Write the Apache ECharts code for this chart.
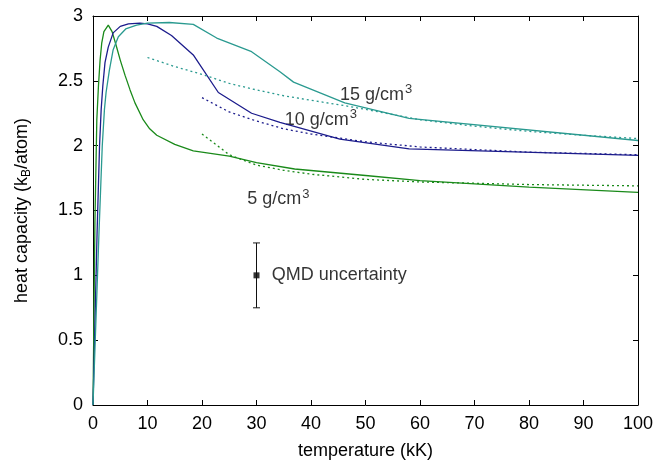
<!DOCTYPE html>
<html>
<head>
<meta charset="utf-8">
<script src="https://cdn.jsdelivr.net/npm/echarts@6/dist/echarts.min.js"></script>
<style>
  html, body { margin: 0; padding: 0; background: #fff; }
  #chart { width: 657px; height: 465px; }
</style>
</head>
<body>
<div id="chart"></div>
<script>
// QMD heat capacity (solid) and model fits (dotted), temperature in kK
const rho5 = [[0,0],[0.35,1.4],[0.7,2.2],[1.0,2.46],[1.3,2.66],[1.6,2.79],[2.0,2.88],[2.8,2.93],[3.5,2.88],[4.2,2.78],[5,2.66],[5.9,2.54],[6.8,2.43],[7.7,2.33],[9.2,2.2],[10.4,2.13],[11.7,2.08],[15,2.01],[18.4,1.96],[25,1.92],[30,1.87],[37,1.82],[50,1.77],[60,1.73],[80,1.68],[100,1.64]];
const rho10 = [[0,0],[0.75,1.33],[1.2,2.0],[1.5,2.28],[1.8,2.46],[2.2,2.64],[2.8,2.76],[3.7,2.87],[5,2.92],[6.5,2.94],[8.6,2.945],[10,2.94],[11.7,2.92],[14.4,2.85],[18.4,2.7],[23,2.41],[29.1,2.25],[34.3,2.18],[45.3,2.05],[58,1.975],[100,1.925]];
const rho15 = [[0,0],[1.1,1.33],[1.7,2.0],[2.1,2.28],[2.4,2.41],[3,2.58],[3.7,2.74],[4.65,2.84],[6,2.9],[8,2.93],[10,2.945],[14,2.95],[18.4,2.935],[22.7,2.83],[29.1,2.725],[34.3,2.57],[36.8,2.49],[46.2,2.33],[58,2.21],[100,2.04]];

const fit5 = [[20,2.09],[25,1.93],[30,1.85],[35,1.81],[40,1.78],[50,1.74],[60,1.72],[70,1.71],[80,1.7],[90,1.695],[100,1.69]];
const fit10 = [[20,2.37],[25,2.26],[30,2.19],[35,2.13],[40,2.09],[45,2.06],[50,2.03],[60,1.99],[70,1.97],[80,1.95],[90,1.94],[100,1.93]];
const fit15 = [[10,2.68],[15,2.61],[20,2.55],[25,2.48],[30,2.43],[35,2.385],[40,2.35],[46,2.31],[50,2.28],[60,2.2],[70,2.15],[80,2.11],[90,2.08],[100,2.055]];

// error bar example: value, low, high
const errT = 30;
const errVal = [1.0, 0.75, 1.25];

const labelPos = [
  { text: '{t|15 g/cm}{sup|3}', at: [45.3, 2.39] },
  { text: '{t|10 g/cm}{sup|3}', at: [35.2, 2.2] },
  { text: '{t|5 g/cm}{sup|3}', at: [28.3, 1.585] },
  { text: '{t|QMD uncertainty}', at: [32.8, 1.0] }
];

const GREEN = '#1a8a1a';
const NAVY = '#1c1c8c';
const TEAL = '#2a9a90';
const FONT = '"Liberation Sans", Arial, sans-serif';
const FS = 18;

const chart = echarts.init(document.getElementById('chart'));

const solid = (data, color) => ({
  type: 'line', data, symbol: 'none', silent: true,
  lineStyle: { color, width: 1.3 }
});
const dotted = (data, color) => ({
  type: 'line', data, symbol: 'none', silent: true,
  lineStyle: { color, width: 1.3, type: [2, 3] }
});

const axisBase = {
  min: 0,
  axisLine: { onZero: false, lineStyle: { color: '#000', width: 1 } },
  axisTick: { inside: true, length: 5, lineStyle: { color: '#000' } },
  splitLine: { show: false }
};

chart.setOption({
  animation: false,
  textStyle: { fontFamily: FONT },
  grid: { left: 93, right: 19, top: 16, bottom: 59 },
  xAxis: [
    Object.assign({}, axisBase, {
      type: 'value', max: 100, interval: 10, position: 'bottom',
      name: 'temperature (kK)', nameLocation: 'middle', nameGap: 37,
      nameTextStyle: { fontSize: FS, color: '#000', fontFamily: FONT },
      axisLabel: { fontSize: FS, color: '#000', margin: 10, fontFamily: FONT }
    }),
    Object.assign({}, axisBase, {
      type: 'value', max: 100, interval: 10, position: 'top',
      axisLabel: { show: false }
    })
  ],
  yAxis: [
    Object.assign({}, axisBase, {
      type: 'value', max: 3, interval: 0.5, position: 'left',
      name: '{a|heat capacity (k}{s|B}{a|/atom)}', nameLocation: 'middle', nameGap: 60,
      nameTextStyle: {
        fontFamily: FONT,
        rich: {
          a: { fontSize: FS, color: '#000', fontFamily: FONT },
          s: { fontSize: 12, color: '#000', verticalAlign: 'bottom', padding: [9, 0, 0, 0], fontFamily: FONT }
        }
      },
      axisLabel: { fontSize: FS, color: '#000', margin: 10, fontFamily: FONT }
    }),
    Object.assign({}, axisBase, {
      type: 'value', max: 3, interval: 0.5, position: 'right',
      axisLabel: { show: false }
    })
  ],
  series: [
    solid(rho5, GREEN),
    solid(rho10, NAVY),
    solid(rho15, TEAL),
    dotted(fit5, GREEN),
    dotted(fit10, NAVY),
    dotted(fit15, TEAL),
    {
      type: 'line', symbol: 'none', silent: true,
      data: [[errT, errVal[1]], [errT, errVal[2]]],
      lineStyle: { color: '#111', width: 1 }
    },
    {
      type: 'scatter', silent: true, symbol: 'rect', symbolSize: [7, 1.2],
      itemStyle: { color: '#111' },
      data: [[errT, errVal[1]], [errT, errVal[2]]]
    },
    {
      type: 'scatter', silent: true, symbol: 'rect', symbolSize: 6,
      itemStyle: { color: '#000' },
      data: [[errT, errVal[0]]]
    },
    {
      type: 'scatter', silent: true, symbolSize: 0,
      data: labelPos.map(l => ({ value: l.at, label: { formatter: l.text } })),
      label: {
        show: true, position: 'right', distance: 0, color: '#000',
        rich: {
          t: { fontSize: FS, color: '#000', fontFamily: FONT },
          sup: { fontSize: 13, color: '#000', fontFamily: FONT, verticalAlign: 'top', padding: [0, 0, 11, 1] }
        }
      }
    }
  ]
});
</script>
</body>
</html>
